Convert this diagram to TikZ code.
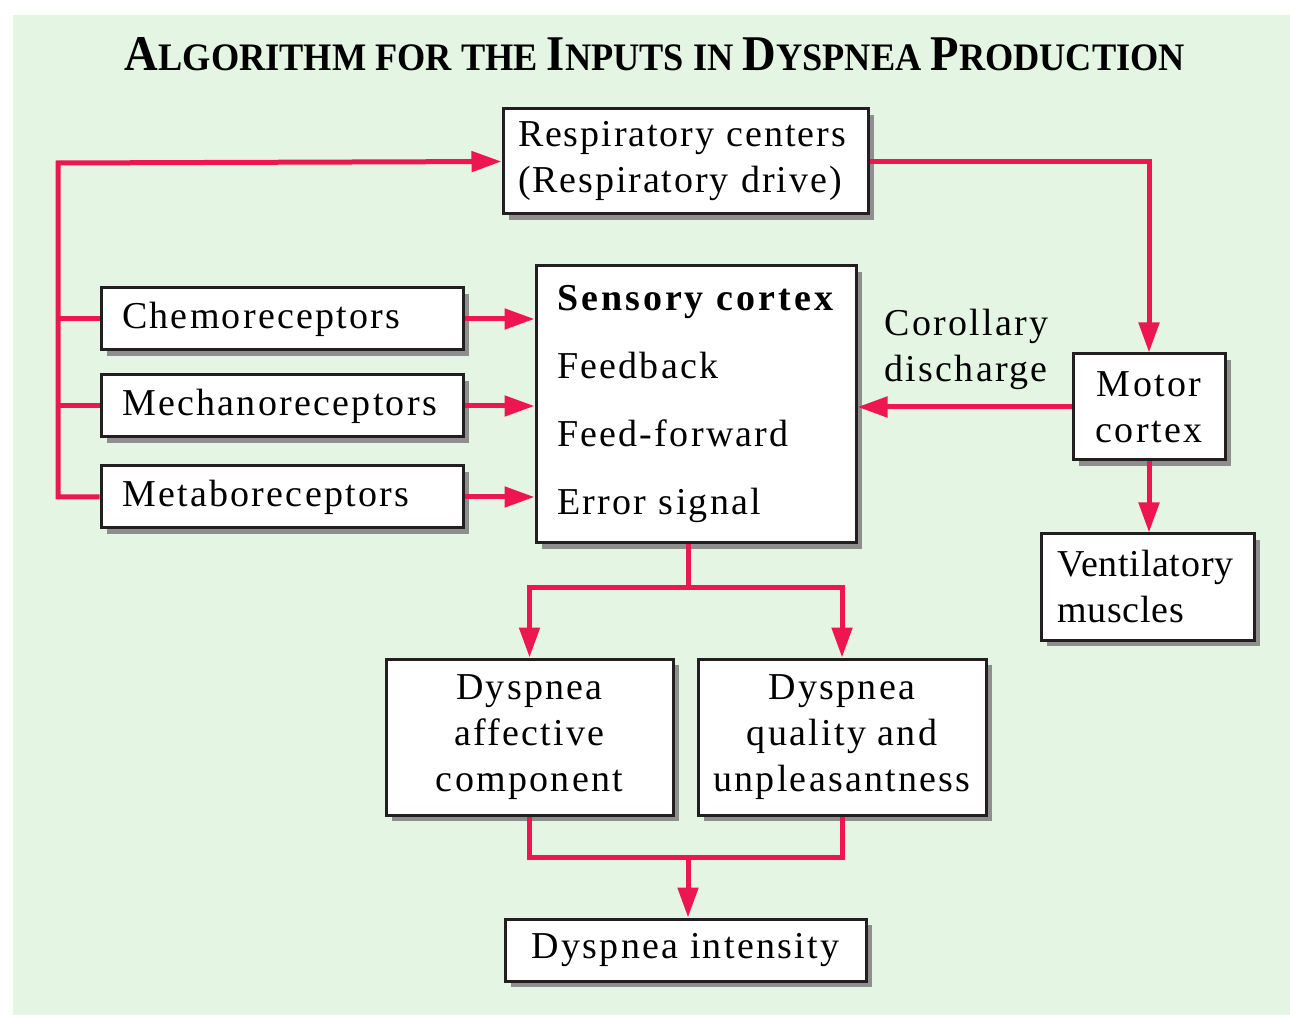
\documentclass[tikz,border=0pt]{standalone}
\usepackage{fontspec}
\setmainfont{Liberation Serif}[LetterSpace=6]
\usepackage{graphicx}
\usetikzlibrary{arrows.meta, shadows}

\definecolor{bggreen}{HTML}{E4F5E3}
\definecolor{flowred}{HTML}{EE1651}
\definecolor{boxline}{HTML}{231F20}
\definecolor{shadowgray}{HTML}{8E8E8E}
\newlength\px
\setlength\px{0.5pt}

\newcommand{\titlebig}[1]{{\fontsize{24}{24}\selectfont #1}}
\newcommand{\titlesmall}[1]{{\fontsize{18.7}{24}\selectfont #1}}

\begin{document}
\begin{tikzpicture}[
  x=0.5pt, y=-0.5pt,
  block/.style={rectangle, draw=boxline, line width=3\px, fill=white, inner sep=0pt,
    drop shadow={shadow xshift=6\px, shadow yshift=-6\px, fill=shadowgray, opacity=1},
    font=\fontsize{19}{23}\selectfont},
  recep/.style={block, minimum width=362\px, minimum height=62\px, text width=320\px, align=left},
  flow/.style={draw=flowred, line width=5\px, -{Triangle[length=15pt, width=10pt]}},
  wire/.style={draw=flowred, line width=5\px}
]

\useasboundingbox (0,0) rectangle (1290,1015);
\fill[bggreen] (13,15) rectangle (1290,1015);

% ======================
% TITLE
% ======================
\node[inner sep=0pt, anchor=base] (title) at (655,71) {\resizebox{530pt}{16.5pt}{\bfseries\addfontfeatures{LetterSpace=0}%
\titlebig{A}\titlesmall{LGORITHM FOR THE }\titlebig{I}\titlesmall{NPUTS IN }\titlebig{D}\titlesmall{YSPNEA }\titlebig{P}\titlesmall{RODUCTION}}};

% ======================
% INPUTS
% ======================
\node[block, minimum width=365\px, minimum height=105\px, text width=335\px, align=left] (resp) at (685.5,161.5) {
\addfontfeatures{LetterSpace=5}Respiratory centers\\
(Respiratory drive)
};

\node[recep] (chemo) at (282,319) {Chemoreceptors};
\node[recep] (mech) at (282,406) {Mechanoreceptors};
\node[recep] (metab) at (282,497) {Metaboreceptors};

% ======================
% CORTEX
% ======================
\node[block, minimum width=320\px, minimum height=277\px, text width=278\px, align=left,
  font=\fontsize{19}{34}\selectfont] (sens) at (696,404.5) {
\textbf{\addfontfeatures{LetterSpace=8}Sensory cortex}\\
Feedback\\
Feed-forward\\
Error signal
};

\node[block, minimum width=152\px, minimum height=106\px, align=center] (motor) at (1149,407) {
Motor\\
cortex
};

\node[block, minimum width=213\px, minimum height=106\px, text width=181\px, align=left] (vent) at (1147.5,587) {
\addfontfeatures{LetterSpace=2}Ventilatory\\
muscles
};

\node[inner sep=0pt, anchor=north west, align=left, font=\fontsize{19}{23}\selectfont] (corollary) at (884,309) {
Corollary\\
discharge
};

% ======================
% OUTCOMES
% ======================
\node[block, minimum width=287\px, minimum height=156\px, align=center] (affect) at (529.5,737) {
Dyspnea\\
affective\\
component
};

\node[block, minimum width=288\px, minimum height=156\px, align=center] (quality) at (842,737) {
Dyspnea\\
quality and\\
unpleasantness
};

\node[block, minimum width=361\px, minimum height=62\px, align=center] (intens) at (685.5,950) {Dyspnea intensity};

% ======================
% RELATIONSHIPS
% ======================
\coordinate (bus) at (58,163);
\coordinate (split) at (688,588);
\coordinate (join) at (688,857);

\draw[flow] (metab.west) -| (bus) -- (resp.west);
\draw[wire] (chemo.west) -- (chemo.west -| bus);
\draw[wire] (mech.west) -- (mech.west -| bus);

\draw[flow] (chemo.east) -- (chemo.east -| sens.west);
\draw[flow] (mech.east) -- (mech.east -| sens.west);
\draw[flow] (metab.east) -- (metab.east -| sens.west);

\draw[flow] (resp.east) -| (motor.north);
\draw[flow] (motor.west) -- (motor.west -| sens.east);
\draw[flow] (motor.south) -- (motor.south |- vent.north);

\draw[wire] (split |- sens.south) -- (split);
\draw[flow] (split) -| (affect.north);
\draw[flow] (split) -| (quality.north);

\draw[wire] (affect.south) |- (join) -| (quality.south);
\draw[flow] (join) -- (join |- intens.north);

\end{tikzpicture}
\end{document}
